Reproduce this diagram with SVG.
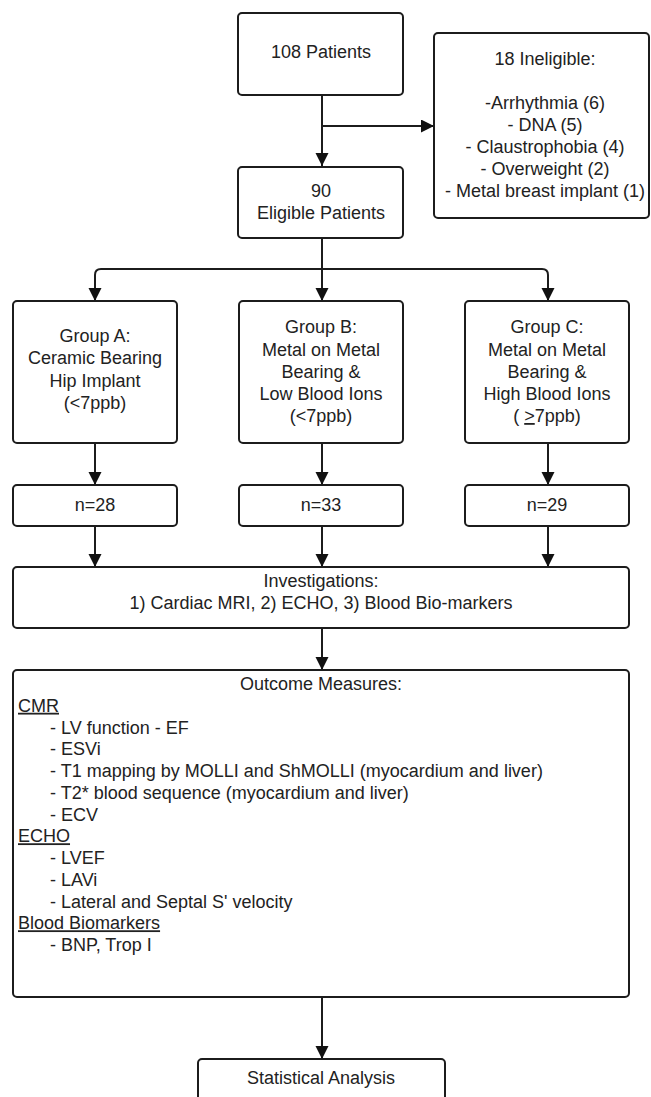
<svg xmlns="http://www.w3.org/2000/svg" width="651" height="1097" viewBox="0 0 651 1097">
<defs>
<style>
.box{fill:#fff;stroke:#1c1c1c;stroke-width:2}
.t{font-family:"Liberation Sans",Arial,sans-serif;font-size:18px;fill:#222}
.c{text-anchor:middle}
.u{text-decoration:underline}
.ln{fill:none;stroke:#1c1c1c;stroke-width:2;marker-end:url(#ah)}
.ln0{fill:none;stroke:#1c1c1c;stroke-width:2}
</style>
<marker id="ah" markerUnits="userSpaceOnUse" markerWidth="14" markerHeight="14" refX="13" refY="6.5" orient="auto">
<path d="M0,0 L13,6.5 L0,13 z" fill="#111"/>
</marker>
</defs>
<rect width="651" height="1097" fill="#fff"/>
<g id="connectors">
<path class="ln" d="M322,95 V166"/>
<path class="ln" d="M322,126 H434"/>
<path class="ln0" d="M322,238 V269"/>
<path class="ln" d="M322,269 V301"/>
<path class="ln" d="M322,269 H101 Q95,269 95,275 V301"/>
<path class="ln" d="M322,269 H542 Q548,269 548,275 V301"/>
<path class="ln" d="M95,443 V485"/>
<path class="ln" d="M322,443 V485"/>
<path class="ln" d="M548,443 V485"/>
<path class="ln" d="M95,526 V567"/>
<path class="ln" d="M322,526 V567"/>
<path class="ln" d="M548,526 V567"/>
<path class="ln" d="M322,628 V670"/>
<path class="ln" d="M322,997 V1059"/>
</g>
<g id="n108">
<rect class="box" x="238" y="13" width="165" height="82" rx="4"/>
<text class="t c" x="321" y="58">108 Patients</text>
</g>
<g id="ineligible">
<rect class="box" x="434" y="33" width="215" height="185" rx="4"/>
<text class="t c" x="545" y="65">18 Ineligible:</text>
<text class="t c" x="545" y="109">-Arrhythmia (6)</text>
<text class="t c" x="545" y="131">- DNA (5)</text>
<text class="t c" x="545" y="153">- Claustrophobia (4)</text>
<text class="t c" x="545" y="175">- Overweight (2)</text>
<text class="t c" x="545" y="197">- Metal breast implant (1)</text>
</g>
<g id="eligible">
<rect class="box" x="238" y="167" width="165" height="71" rx="4"/>
<text class="t c" x="321" y="197">90</text>
<text class="t c" x="321" y="219">Eligible Patients</text>
</g>
<g id="groupA">
<rect class="box" x="13" y="301" width="164" height="142" rx="4"/>
<text class="t c" x="95" y="342">Group A:</text>
<text class="t c" x="95" y="364">Ceramic Bearing</text>
<text class="t c" x="95" y="387">Hip Implant</text>
<text class="t c" x="95" y="409">(&lt;7ppb)</text>
</g>
<g id="groupB">
<rect class="box" x="239" y="301" width="164" height="142" rx="4"/>
<text class="t c" x="321" y="333">Group B:</text>
<text class="t c" x="321" y="356">Metal on Metal</text>
<text class="t c" x="321" y="378">Bearing &amp;</text>
<text class="t c" x="321" y="400">Low Blood Ions</text>
<text class="t c" x="321" y="422">(&lt;7ppb)</text>
</g>
<g id="groupC">
<rect class="box" x="465" y="301" width="164" height="142" rx="4"/>
<text class="t c" x="547" y="333">Group C:</text>
<text class="t c" x="547" y="356">Metal on Metal</text>
<text class="t c" x="547" y="378">Bearing &amp;</text>
<text class="t c" x="547" y="400">High Blood Ions</text>
<text class="t c" x="547" y="422">( <tspan class="u">&gt;</tspan>7ppb)</text>
</g>
<g id="nA">
<rect class="box" x="13" y="485" width="164" height="41" rx="4"/>
<text class="t c" x="95" y="511">n=28</text>
</g>
<g id="nB">
<rect class="box" x="239" y="485" width="164" height="41" rx="4"/>
<text class="t c" x="321" y="511">n=33</text>
</g>
<g id="nC">
<rect class="box" x="465" y="485" width="164" height="41" rx="4"/>
<text class="t c" x="547" y="511">n=29</text>
</g>
<g id="investigations">
<rect class="box" x="13" y="567" width="616" height="61" rx="4"/>
<text class="t c" x="321" y="587">Investigations:</text>
<text class="t c" x="321" y="609">1) Cardiac MRI, 2) ECHO, 3) Blood Bio-markers</text>
</g>
<g id="outcome">
<rect class="box" x="13" y="670" width="616" height="327" rx="4"/>
<text class="t c" x="321" y="690">Outcome Measures:</text>
<text class="t u" x="18" y="711.75">CMR</text>
<text class="t" x="50" y="733.5">- LV function - EF</text>
<text class="t" x="50" y="755.25">- ESVi</text>
<text class="t" x="50" y="777">- T1 mapping by MOLLI and ShMOLLI (myocardium and liver)</text>
<text class="t" x="50" y="798.75">- T2* blood sequence (myocardium and liver)</text>
<text class="t" x="50" y="820.5">- ECV</text>
<text class="t u" x="18" y="842.25">ECHO</text>
<text class="t" x="50" y="864">- LVEF</text>
<text class="t" x="50" y="885.75">- LAVi</text>
<text class="t" x="50" y="907.5">- Lateral and Septal S' velocity</text>
<text class="t u" x="18" y="929.25">Blood Biomarkers</text>
<text class="t" x="50" y="951">- BNP, Trop I</text>
</g>
<g id="statistical">
<rect class="box" x="198" y="1059" width="247" height="60" rx="4"/>
<text class="t c" x="321" y="1084">Statistical Analysis</text>
</g>
</svg>
